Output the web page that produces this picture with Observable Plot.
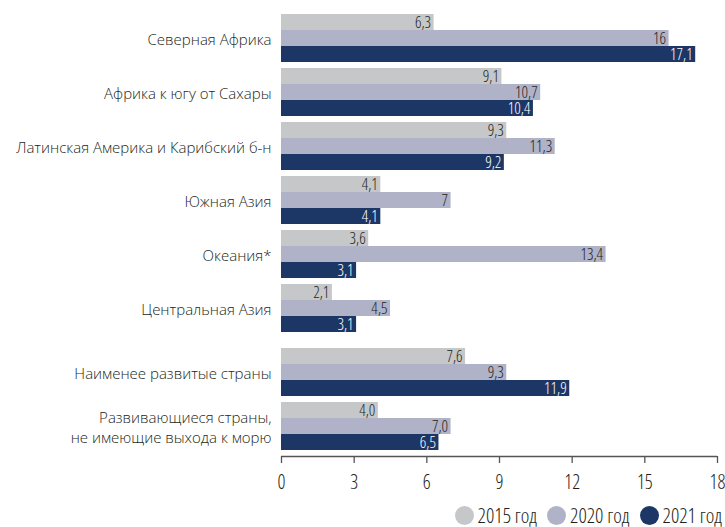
<!DOCTYPE html>
<html>
<head>
<meta charset="utf-8">
<script src="https://cdn.jsdelivr.net/npm/d3@7"></script>
<script src="https://cdn.jsdelivr.net/npm/@observablehq/plot@0.6"></script>
<style>
  body { margin: 0; background: #fff; font-family: "Open Sans", sans-serif; }
  #chart svg .cond { font-stretch: 75%; }
  #legend { display: flex; justify-content: flex-end; align-items: center; height: 24px; padding-right: 3px; font-size: 20.5px; line-height: 1; font-weight: 300; font-stretch: 75%; color: #231f20; }
  .item { display: flex; align-items: center; margin-left: 10px; }
  .dot { width: 19px; height: 19px; border-radius: 50%; margin-right: 4px; }
</style>
</head>
<body>
<div id="chart"></div>
<div id="legend"></div>
<script>
const categories = [
  "Северная Африка",
  "Африка к югу от Сахары",
  "Латинская Америка и Карибский б-н",
  "Южная Азия",
  "Океания*",
  "Центральная Азия",
  "Наименее развитые страны",
  "Развивающиеся страны,\nне имеющие выхода к морю"
];
const series = ["2015 год", "2020 год", "2021 год"];
const v2015 = [6.3, 9.1, 9.3, 4.1, 3.6, 2.1, 7.6, 4.0];
const v2020 = [16, 10.7, 11.3, 7, 13.4, 4.5, 9.3, 7.0];
const v2021 = [17.1, 10.4, 9.2, 4.1, 3.1, 3.1, 11.9, 6.5];
const l2015 = ["6,3", "9,1", "9,3", "4,1", "3,6", "2,1", "7,6", "4,0"];
const l2020 = ["16", "10,7", "11,3", "7", "13,4", "4,5", "9,3", "7,0"];
const l2021 = ["17,1", "10,4", "9,2", "4,1", "3,1", "3,1", "11,9", "6,5"];
const xTicks = [0, 3, 6, 9, 12, 15, 18];
const groupBreak = 6; // index where the second block of categories starts
const colors = ["#c6c7c9", "#b0b2c7", "#1c3666"];
const textColors = ["#231f20", "#231f20", "#ffffff"];

const values = [v2015, v2020, v2021];
const labels = [l2015, l2020, l2021];
const barH = 16 / 54, extraGap = 10 / 54;
const groupPos = categories.map((c, i) => i + (i >= groupBreak ? extraGap : 0));
const rows = [];
categories.forEach((c, i) => {
  series.forEach((s, k) => {
    const y1 = groupPos[i] + k * barH;
    rows.push({cat: c, series: s, k, value: values[k][i], label: labels[k][i], y1, y2: y1 + barH});
  });
});
const cats = categories.map((c, i) => ({name: c, center: groupPos[i] + 1.5 * barH}));
const yMax = groupPos[categories.length - 1] + 1;

const chart = Plot.plot({
  width: 725,
  height: 503,
  marginTop: 14,
  marginBottom: 47,
  marginLeft: 281,
  marginRight: 8,
  style: {fontFamily: "Open Sans, sans-serif", color: "#231f20", background: "#fff"},
  x: {domain: [0, 18], ticks: xTicks},
  y: {domain: [0, yMax], reverse: true, axis: null},
  color: {domain: series, range: colors},
  marks: [
    Plot.rect(rows, {x1: d => 0, x2: "value", y1: "y1", y2: "y2", fill: "series"}),
    Plot.text(rows, {x: "value", y: d => (d.y1 + d.y2) / 2, text: "label", textAnchor: "end", dx: -3,
      fill: d => textColors[d.k], fontSize: 16, fontWeight: 300, className: "cond"}),
    Plot.text(cats, {x: d => 0, y: "center", text: "name", textAnchor: "end", dx: -10,
      lineAnchor: "middle", lineHeight: 1.3, fontSize: 15, fontWeight: 300, fill: "#231f20"}),
    Plot.ruleY([yMax], {stroke: "#555", strokeWidth: 1.3}),
    Plot.axisX({ticks: xTicks, tickSize: 7, tickPadding: 12, fontSize: 19.5, fontWeight: 300, stroke: "#555", strokeWidth: 1.3, fill: "#231f20", label: null, className: "cond"})
  ]
});
document.getElementById("chart").appendChild(chart);

const legend = document.getElementById("legend");
series.forEach((s, k) => {
  const item = document.createElement("div");
  item.className = "item";
  const dot = document.createElement("span");
  dot.className = "dot";
  dot.style.background = colors[k];
  const t = document.createElement("span");
  t.textContent = s;
  item.appendChild(dot);
  item.appendChild(t);
  legend.appendChild(item);
});
</script>
</body>
</html>
